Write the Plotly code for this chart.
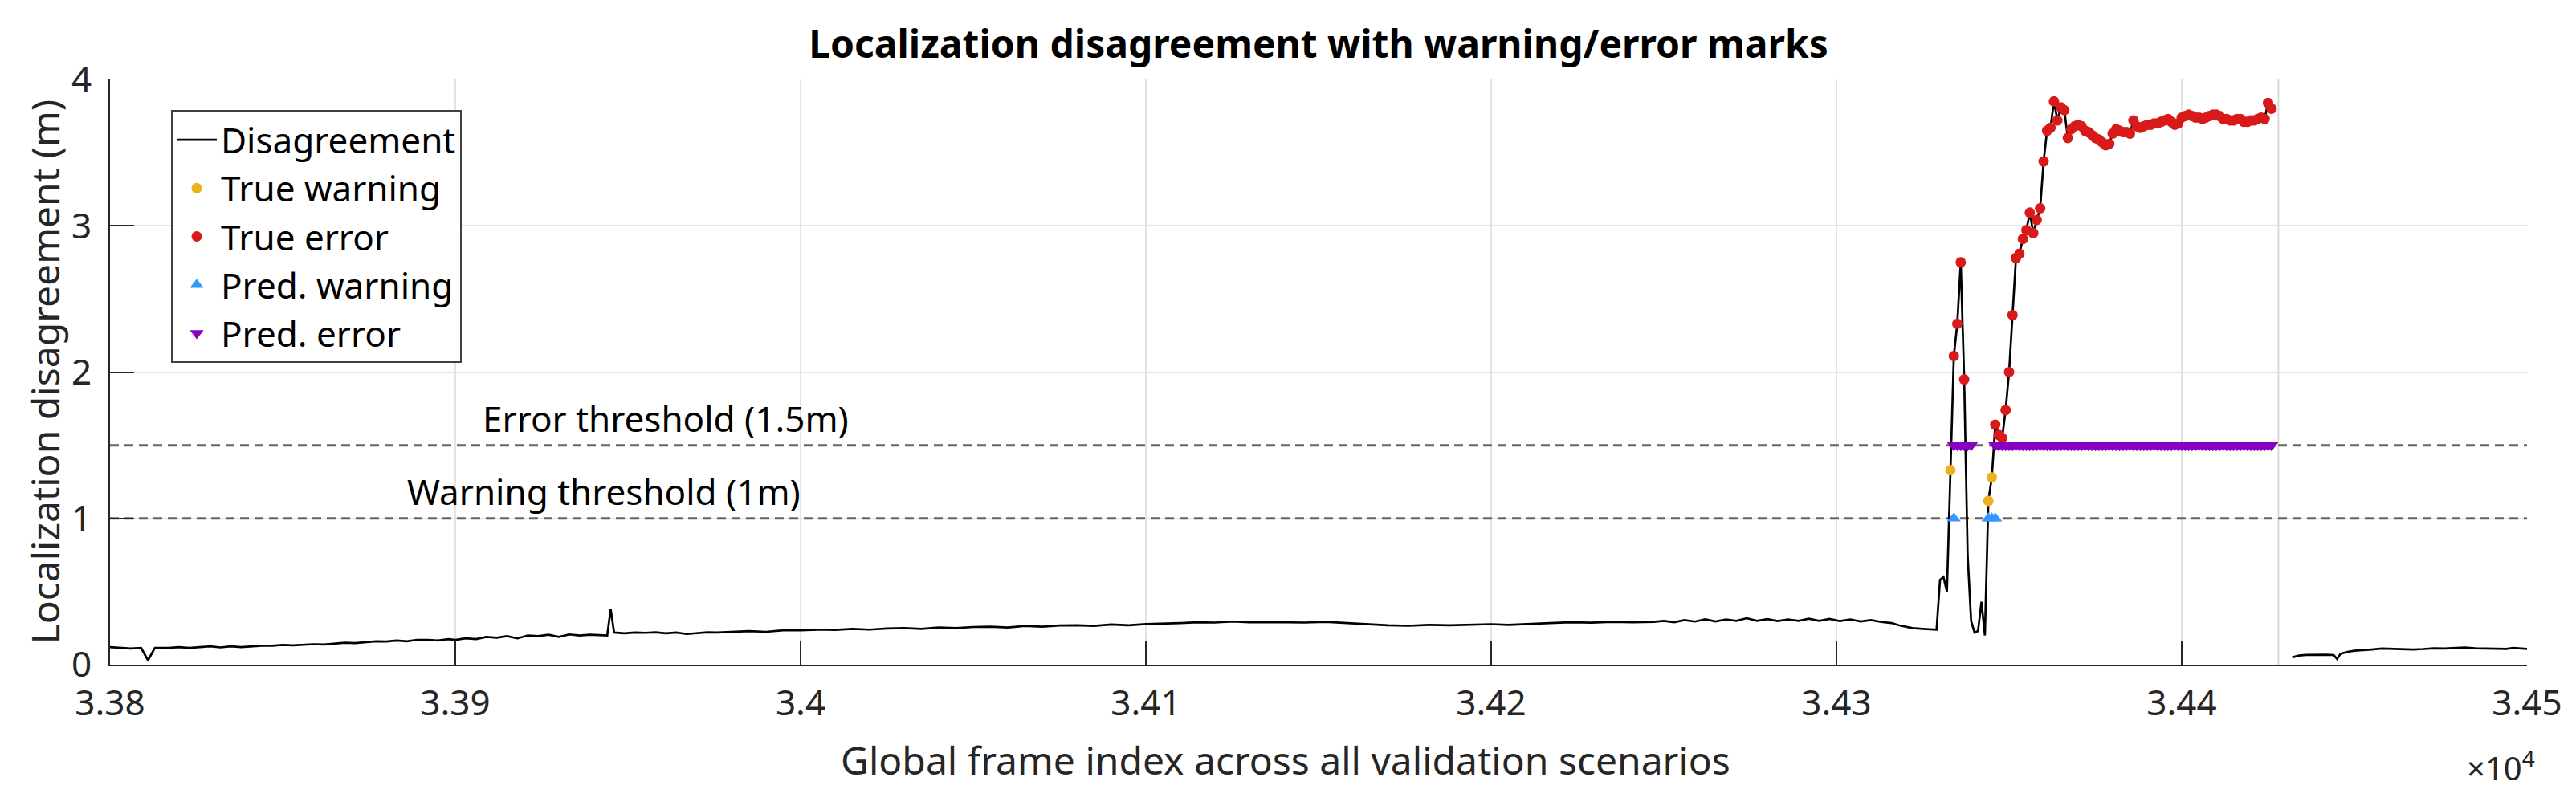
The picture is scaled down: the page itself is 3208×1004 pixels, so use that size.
import plotly.graph_objects as go

# ---------------- data ----------------
seg1_frames = [33800, 33803, 33806, 33809, 33811, 33813, 33817, 33820, 33823, 33826, 33829, 33832, 33835, 33838,
               33841, 33844, 33847, 33850, 33853, 33856, 33859, 33862, 33865, 33868, 33871, 33874, 33877, 33880,
               33883, 33886, 33889, 33892, 33895, 33898, 33900, 33903, 33906, 33909, 33912, 33915, 33918, 33921,
               33924, 33927, 33930, 33933, 33936, 33939, 33942, 33944, 33945, 33946, 33949, 33952, 33955, 33958,
               33961, 33964, 33967, 33970, 33973, 33976, 33980, 33985, 33990, 33995, 34000, 34005, 34010, 34015,
               34020, 34025, 34030, 34035, 34040, 34045, 34050, 34055, 34060, 34065, 34070, 34075, 34080, 34085,
               34090, 34095, 34100, 34105, 34110, 34115, 34120, 34125, 34130, 34135, 34140, 34146, 34152, 34158,
               34164, 34170, 34176, 34182, 34188, 34194, 34200, 34205, 34211, 34217, 34223, 34229, 34235, 34241,
               34247, 34250, 34253, 34256, 34259, 34262, 34265, 34268, 34271, 34274, 34277, 34280, 34283, 34286,
               34289, 34292, 34295, 34298, 34301, 34304, 34307, 34310, 34313, 34316, 34318, 34320, 34322, 34325,
               34328, 34329, 34330, 34331, 34332, 34333, 34334, 34335, 34336, 34337, 34338, 34339, 34340, 34341,
               34342, 34343, 34344, 34345, 34346, 34347, 34348, 34349, 34350, 34351, 34352, 34353, 34354, 34355,
               34356, 34357, 34358, 34359, 34360, 34361, 34362, 34363, 34364, 34365, 34366, 34367, 34368, 34369,
               34370, 34371, 34372, 34373, 34374, 34375, 34376, 34377, 34378, 34379, 34380, 34381, 34382, 34383,
               34384, 34385, 34386, 34387, 34388, 34389, 34390, 34391, 34392, 34393, 34394, 34395, 34396, 34397,
               34398, 34399, 34400, 34401, 34402, 34403, 34404, 34405, 34406, 34407, 34408, 34409, 34410, 34411,
               34412, 34413, 34414, 34415, 34416, 34417, 34418, 34419, 34420, 34421, 34422, 34423, 34424, 34425,
               34426]
seg1_values = [0.12, 0.115, 0.11, 0.115, 0.03, 0.115, 0.115, 0.12, 0.115, 0.12, 0.125, 0.118, 0.125, 0.12,
               0.125, 0.13, 0.13, 0.135, 0.132, 0.135, 0.14, 0.138, 0.145, 0.15, 0.148, 0.155, 0.16, 0.158,
               0.165, 0.16, 0.17, 0.17, 0.165, 0.175, 0.17, 0.18, 0.175, 0.19, 0.185, 0.195, 0.18, 0.2,
               0.195, 0.205, 0.19, 0.207, 0.2, 0.205, 0.2, 0.2, 0.38, 0.22, 0.215, 0.22, 0.218, 0.222,
               0.215, 0.22, 0.21, 0.218, 0.222, 0.22, 0.225, 0.23, 0.225, 0.235, 0.235, 0.24, 0.238, 0.245,
               0.24, 0.248, 0.25, 0.245, 0.255, 0.25, 0.258, 0.26, 0.255, 0.265, 0.26, 0.268, 0.27, 0.265,
               0.275, 0.27, 0.278, 0.28, 0.285, 0.29, 0.288, 0.295, 0.29, 0.292, 0.29, 0.288, 0.293, 0.285,
               0.275, 0.27, 0.266, 0.272, 0.27, 0.274, 0.277, 0.272, 0.28, 0.285, 0.29, 0.287, 0.293, 0.29,
               0.293, 0.30, 0.29, 0.305, 0.295, 0.31, 0.296, 0.31, 0.30, 0.318, 0.30, 0.312, 0.298, 0.31,
               0.30, 0.315, 0.30, 0.313, 0.298, 0.31, 0.296, 0.305, 0.292, 0.285, 0.27, 0.26, 0.25, 0.245,
               0.24, 0.24, 0.58, 0.60, 0.50, 1.33, 2.11, 2.33, 2.75, 1.95, 0.75, 0.30, 0.22, 0.23,
               0.43, 0.20, 1.12, 1.28, 1.64, 1.57, 1.55, 1.74, 2.00, 2.39, 2.78, 2.81, 2.91, 2.97,
               3.09, 2.95, 3.04, 3.12, 3.44, 3.65, 3.67, 3.85, 3.72, 3.81, 3.79, 3.60, 3.66, 3.68,
               3.69, 3.68, 3.65, 3.64, 3.62, 3.60, 3.59, 3.57, 3.55, 3.56, 3.63, 3.66, 3.65, 3.64,
               3.64, 3.63, 3.72, 3.68, 3.67, 3.68, 3.69, 3.69, 3.70, 3.70, 3.71, 3.72, 3.73, 3.71,
               3.69, 3.70, 3.74, 3.75, 3.76, 3.75, 3.74, 3.74, 3.73, 3.74, 3.75, 3.76, 3.76, 3.75,
               3.73, 3.73, 3.72, 3.72, 3.73, 3.73, 3.71, 3.71, 3.72, 3.72, 3.73, 3.74, 3.73, 3.84,
               3.80]

seg2_frames = [34432, 34434, 34436, 34438, 34440, 34442, 34444, 34445, 34446, 34448, 34450, 34452, 34455,
               34458, 34461, 34464, 34467, 34470, 34473, 34476, 34479, 34482, 34485, 34488, 34491, 34494,
               34496, 34498, 34500]
seg2_values = [0.05, 0.062, 0.066, 0.068, 0.066, 0.068, 0.066, 0.04, 0.075, 0.088, 0.095, 0.10, 0.104,
               0.11, 0.108, 0.11, 0.104, 0.107, 0.112, 0.11, 0.115, 0.118, 0.112, 0.11, 0.112, 0.108,
               0.115, 0.11, 0.108]

true_warning_frames = [34333, 34344, 34345]
true_error_frames = [34334, 34335, 34336, 34337] + list(range(34346, 34427))
pred_warning_frames = [34334, 34344, 34345, 34346]
pred_error_frames = list(range(34334, 34340)) + list(range(34346, 34427))

warning_threshold = 1.0
error_threshold = 1.5
scenario_boundary = 34428

x_range = [33800, 34500]
x_ticks = [33800, 33900, 34000, 34100, 34200, 34300, 34400, 34500]
x_ticklabels = ["3.38", "3.39", "3.4", "3.41", "3.42", "3.43", "3.44", "3.45"]
y_range = [0, 4]
y_ticks = [0, 1, 2, 3, 4]

# ---------------- figure ----------------
lookup = dict(zip(seg1_frames, seg1_values))
FONT = "Noto Sans"
AX = "#262626"

fig = go.Figure()

# scenario boundary (light vertical line) and threshold lines, drawn under the data
fig.add_trace(go.Scatter(x=[scenario_boundary, scenario_boundary], y=y_range, mode="lines",
                         line=dict(color="#DADADA", width=2), showlegend=False, hoverinfo="skip"))
for thr in (warning_threshold, error_threshold):
    fig.add_trace(go.Scatter(x=x_range, y=[thr, thr], mode="lines",
                             line=dict(color="#666666", width=3, dash="11px,7px"),
                             showlegend=False, hoverinfo="skip"))

fig.add_trace(go.Scatter(
    x=seg1_frames + [None] + seg2_frames,
    y=seg1_values + [None] + seg2_values,
    mode="lines", name="Disagreement",
    line=dict(color="black", width=2.7), connectgaps=False))

fig.add_trace(go.Scatter(
    x=true_warning_frames, y=[lookup[f] for f in true_warning_frames],
    mode="markers", name="True warning",
    marker=dict(symbol="circle", size=13, color="#EDB120", line=dict(width=0))))

fig.add_trace(go.Scatter(
    x=true_error_frames, y=[lookup[f] for f in true_error_frames],
    mode="markers", name="True error",
    marker=dict(symbol="circle", size=13, color="#D91A1A", line=dict(width=0))))

fig.add_trace(go.Scatter(
    x=pred_warning_frames, y=[warning_threshold] * len(pred_warning_frames),
    mode="markers", name="Pred. warning",
    marker=dict(symbol="triangle-up", size=15, color="#3399FF", line=dict(width=0))))

fig.add_trace(go.Scatter(
    x=pred_error_frames, y=[error_threshold] * len(pred_error_frames),
    mode="markers", name="Pred. error",
    marker=dict(symbol="triangle-down", size=15, color="#8800C0", line=dict(width=0))))

fig.add_annotation(x=33961, y=error_threshold, xref="x", yref="y", text="Error threshold (1.5m)",
                   showarrow=False, xanchor="center", yanchor="bottom", yshift=2,
                   font=dict(family=FONT, size=44, color="black"))
fig.add_annotation(x=33943, y=warning_threshold, xref="x", yref="y", text="Warning threshold (1m)",
                   showarrow=False, xanchor="center", yanchor="bottom", yshift=2,
                   font=dict(family=FONT, size=44, color="black"))

# axis titles and exponent
fig.add_annotation(x=0.4864, y=-0.1632, xref="paper", yref="paper",
                   text="Global frame index across all validation scenarios", showarrow=False,
                   xanchor="center", yanchor="middle", font=dict(family=FONT, size=48, color=AX))
fig.add_annotation(x=-0.02724, y=0.5, xref="paper", yref="paper", textangle=-90,
                   text="Localization disagreement (m)", showarrow=False,
                   xanchor="center", yanchor="middle", font=dict(family=FONT, size=48, color=AX))
fig.add_annotation(x=1, y=-0.174, xref="paper", yref="paper", text="×10<sup>4</sup>", showarrow=False,
                   xanchor="right", yanchor="middle", xshift=12,
                   font=dict(family=FONT, size=40, color=AX))

fig.update_layout(
    width=3208, height=1004, autosize=False,
    margin=dict(l=137, r=61, t=99, b=176),
    paper_bgcolor="white", plot_bgcolor="white",
    title=dict(text="<b>Localization disagreement with warning/error marks</b>",
               x=0.5, xref="paper", xanchor="center",
               y=1 - 55 / 1004, yref="container", yanchor="middle",
               font=dict(family=FONT, size=48, color="black")),
    font=dict(family=FONT, size=44, color=AX),
    legend=dict(x=(213 - 137) / 3010, y=(828 - 137) / 729, xanchor="left", yanchor="top",
                bgcolor="white", bordercolor="#404040", borderwidth=2,
                font=dict(family=FONT, size=44, color="black"),
                itemwidth=50, tracegroupgap=0),
    showlegend=True,
)

fig.update_xaxes(range=x_range, tickmode="array", tickvals=x_ticks, ticktext=x_ticklabels,
                 showgrid=True, gridcolor="#E3E3E3", gridwidth=2, zeroline=False,
                 showline=True, linecolor=AX, linewidth=2, mirror=False,
                 ticks="inside", ticklen=30, tickwidth=2, tickcolor=AX,
                 tickfont=dict(family=FONT, size=44, color=AX), ticklabelstandoff=8)
fig.update_yaxes(range=y_range, tickmode="array", tickvals=y_ticks,
                 showgrid=True, gridcolor="#E3E3E3", gridwidth=2, zeroline=False,
                 showline=True, linecolor=AX, linewidth=2, mirror=False,
                 ticks="inside", ticklen=30, tickwidth=2, tickcolor=AX,
                 tickfont=dict(family=FONT, size=44, color=AX), ticklabelstandoff=12)

fig.write_html("out.html")
